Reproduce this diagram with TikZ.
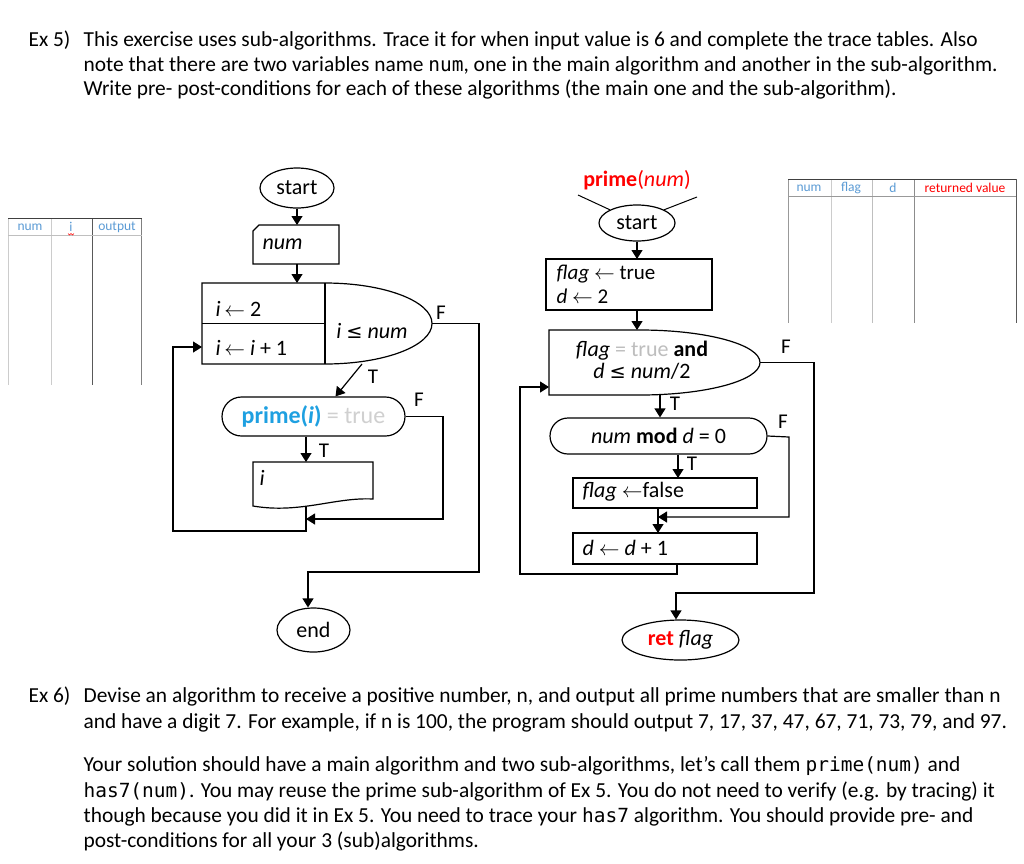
\documentclass[tikz,border=0pt]{standalone}
\usepackage{fontspec}
\setmainfont{Carlito}
\newfontfamily\mono[Scale=0.91]{DejaVu Sans Mono}
\newfontfamily\sym[Scale=0.88]{DejaVu Sans}
\usetikzlibrary{shapes.geometric,shapes.misc,arrows.meta}
\definecolor{primeblue}{RGB}{30,160,225}
\definecolor{lgray}{RGB}{208,208,208}
\definecolor{mgray}{RGB}{190,190,190}
\definecolor{hdrblue}{RGB}{91,155,213}
\definecolor{tred}{RGB}{255,0,0}
\newcommand{\lar}{\ensuremath{\leftarrow}}
\newcommand{\leqs}{{\sym ≤}}
\begin{document}
\begin{tikzpicture}[x=1pt,y=-1pt,line width=1.2pt,
  arr/.style={-{Triangle[length=9pt,width=11pt]}},
  flow/.style={font=\fontsize{22}{22}\selectfont,inner sep=0pt},
  lbl/.style={font=\fontsize{21}{21}\selectfont,inner sep=0pt},
  body/.style={font=\fontsize{21.4}{25}\selectfont,inner sep=0pt,anchor=base west},
  hdr/.style={font=\fontsize{13.5}{14}\selectfont,inner sep=0pt,text=hdrblue},
  ghost/.style={inner sep=0pt,outer sep=0pt},
  tline/.style={line width=1pt}]
\useasboundingbox (0,0) rectangle (1024,863);
\fill[white] (0,0) rectangle (1024,863);

% ---------- text ----------
\node[body] (ex5) at (28,46.5) {Ex 5)};
\node[body] (t1) at (83,46.5) {This exercise uses sub-algorithms. Trace it for when input value is 6 and complete the trace tables. Also};
\node[body] (t2) at (83,71) {note that there are two variables name {\mono num}, one in the main algorithm and another in the sub-algorithm.};
\node[body] (t3) at (83,95) {Write pre- post-conditions for each of these algorithms (the main one and the sub-algorithm).};

\node[body] (ex6) at (28,702) {Ex 6)};
\node[body] (u1) at (83,702) {Devise an algorithm to receive a positive number, n, and output all prime numbers that are smaller than n};
\node[body] (u2) at (83,728) {and have a digit 7. For example, if n is 100, the program should output 7, 17, 37, 47, 67, 71, 73, 79, and 97.};
\node[body] (u3) at (83,771.5) {Your solution should have a main algorithm and two sub-algorithms, let’s call them {\mono prime(num)} and};
\node[body] (u4) at (83,797) {{\mono has7(num)}. You may reuse the prime sub-algorithm of Ex 5. You do not need to verify (e.g. by tracing) it};
\node[body] (u5) at (83,822) {though because you did it in Ex 5. You need to trace your {\mono has7} algorithm. You should provide pre- and};
\node[body] (u6) at (83,847) {post-conditions for all your 3 (sub)algorithms.};

% ---------- left trace table ----------
\draw[tline,color=black!20] (8.5,218) -- (8.5,385);
\draw[tline,color=black!20] (51,218) -- (51,385);
\draw[tline,color=black!65] (92.5,218) -- (92.5,385);
\draw[tline,color=black!50] (141.5,218) -- (141.5,385);
\draw[tline,color=black!75] (8,218) -- (142,218);
\draw[tline,color=black!25] (8,235) -- (142,235);
\node[hdr] (hnum) at (30,227) {num};
\node[hdr] (hi) at (71,227) {i};
\node[hdr] (hout) at (117,227) {output};
\draw[red,line width=0.6pt] (68,233.5) -- (69.5,235) -- (71,233.5) -- (72.5,235) -- (74,233.5);

% ---------- right trace table ----------
\draw[tline,color=black!40] (788,179) -- (788,323);
\draw[tline,color=black!20] (831,179) -- (831,323);
\draw[tline,color=black!25] (872,179) -- (872,323);
\draw[tline,color=black!45] (914,179) -- (914,323);
\draw[tline,color=black!65] (1016,179) -- (1016,323);
\draw[tline,color=black!75] (788,179) -- (1016,179);
\draw[tline,color=black!40] (788,196) -- (1016,196);
\node[hdr] (rnum) at (809,188) {num};
\node[hdr] (rflag) at (851,188) {flag};
\node[hdr] (rd) at (893,188) {d};
\node[hdr,text=tred] (rret) at (965,188) {returned value};

% ---------- main algorithm ----------
\node[ellipse,draw,minimum width=74,minimum height=40,flow] (start1) at (297,188) {start};
\node[ghost,minimum width=86,minimum height=39] (numbox) at (296,244.5) {};
\draw ([xshift=6]numbox.north west) -- (numbox.north east) -- (numbox.south east) -- (numbox.south west) -- ([yshift=-6]numbox.north west) -- cycle;
\node[flow,anchor=west] (numtxt) at (262,244) {\itshape num};

\node[ghost,minimum width=230,minimum height=81] (loop) at (317,323.5) {};
\draw (325,283) -- (202,283) -- (202,364) -- (325,364)
  .. controls (384.1,364) and (432,345.9) .. (432,323.5)
  .. controls (432,301.1) and (384.1,283) .. (325,283) -- cycle;
\draw (202,323.5) -- (325,323.5);
\draw (325,283) -- (325,364);
\node[flow,anchor=west] (iinit) at (215,309) {\textit{i}\,\lar\ 2};
\node[flow,anchor=west] (iinc) at (215,348) {\textit{i}\,\lar\ \textit{i} + 1};
\node[flow] (icond) at (372,331) {\textit{i} \leqs\ \textit{num}};

\node[rounded rectangle,draw,minimum width=183,minimum height=39,flow,font=\fontsize{24}{24}\selectfont] (prime) at (313.5,416.5) {{\bfseries\color{primeblue}prime(\textit{i})} {\color{lgray}= true}};

\node[ghost,minimum width=120,minimum height=45] (outbox) at (313,484.5) {};
\draw (253,462) -- (373,462) -- (373,499) .. controls (335,497) and (300,514) .. (253,506) -- cycle;
\node[flow,anchor=west] (itxt) at (259,478) {\itshape i};

\node[ellipse,draw,minimum width=73,minimum height=44,flow] (endn) at (313.5,630) {end};

\draw[arr] (start1.south) -- (start1.south |- numbox.north);
\draw[arr] (numbox.south -| start1) -- (start1 |- loop.north);
\draw[arr] ([xshift=45]loop.south) -- ([xshift=22]prime.north);
\node[lbl] (T1) at (373,377) {T};
\draw[arr] (loop.east) -- (479,323.5) -- (479,572) -| ([xshift=-5.5]endn.north);
\node[lbl] (F1) at (441,313) {F};
\draw[arr] ([xshift=-7.5]prime.south) -- ([xshift=-7.5]prime.south |- outbox.north);
\node[lbl] (T2) at (324,451) {T};
\coordinate (m1) at (306,519);
\draw[arr] (prime.east) -- (443,416.5) |- (m1);
\node[lbl] (F2) at (419,400) {F};
\coordinate (outb) at (306,506.5);
\coordinate (lin) at (202,347);
\draw[arr] (outb) -- (306,531) -| (173,347) -- (lin);

% ---------- sub-algorithm ----------
\node[font=\fontsize{22}{22}\selectfont,text=tred,inner sep=0pt] (ptitle) at (637,180) {\textbf{prime}(\textit{num})};
\node[ellipse,draw,minimum width=76,minimum height=36,flow] (start2) at (637,223) {start};
\coordinate (tl) at (578,195);
\coordinate (tr) at (697,197);
\draw[line width=1pt] (tl) -- (start2.154);
\draw[line width=1pt] (tr) -- (start2.26);

\node[ghost,draw,minimum width=166,minimum height=51] (init) at (629,284.5) {};
\node[flow,anchor=base west,font=\fontsize{21}{21}\selectfont] (inittxt1) at (556,279) {\textit{flag} \lar\ true};
\node[flow,anchor=base west,font=\fontsize{21}{21}\selectfont] (inittxt2) at (556,303) {\textit{d} \lar\ 2};

\node[ghost,minimum width=211,minimum height=65] (dec2) at (654.5,362.5) {};
\draw (640,330) -- (549,330) -- (549,395) -- (640,395)
  .. controls (706.3,395) and (760,380.45) .. (760,362.5)
  .. controls (760,344.55) and (706.3,330) .. (640,330) -- cycle;
\node[flow,align=center,font=\fontsize{22}{22}\selectfont] (dec2txt) at (642,360) {\textit{flag} {\color{mgray}= true} \textbf{and}\\\textit{d} \leqs\ \textit{num}/2};

\node[rounded rectangle,draw,minimum width=217,minimum height=36,flow] (mod) at (658.5,436) {\textit{num} \textbf{mod} \textit{d} = 0};
\node[ghost,draw,minimum width=184,minimum height=30] (false) at (665,493) {};
\node[flow,anchor=west] (falsetxt) at (582,492) {\textit{flag} \lar false};
\node[ghost,draw,minimum width=184,minimum height=31] (dbox) at (665,548.5) {};
\node[flow,anchor=west] (dtxt) at (582,548) {\textit{d} \lar\ \textit{d} + 1};

\node[ellipse,draw,minimum width=117,minimum height=40,flow] (ret) at (680.5,640) {{\bfseries\color{tred}ret} \textit{flag}};

\draw[arr] (start2.south) -- (start2.south |- init.north);
\draw[arr] (init.south -| start2) -- (start2 |- dec2.north);
\draw[arr] (dec2.east) -- (814,362.5) -- (814,593) -| ([xshift=-4.5]ret.north);
\node[lbl] (F3) at (786,347) {F};
\draw[arr] ([xshift=5.5]dec2.south) -- ([xshift=5.5]dec2.south |- mod.north);
\node[lbl] (T3) at (675,404) {T};
\draw[arr] ([xshift=19.5]mod.south) -- ([xshift=19.5]mod.south |- false.north);
\node[lbl] (T4) at (692,464) {T};
\coordinate (m2) at (658,517);
\draw[arr] (mod.east) -- (789,437) |- (m2);
\node[lbl] (F4) at (783,422) {F};
\draw[arr] (m2 |- false.south) -- (m2 |- dbox.north);
\draw[arr] ([xshift=12]dbox.south) |- (520,574) |- ([yshift=-24.5]dec2.west);
\end{tikzpicture}
\end{document}
